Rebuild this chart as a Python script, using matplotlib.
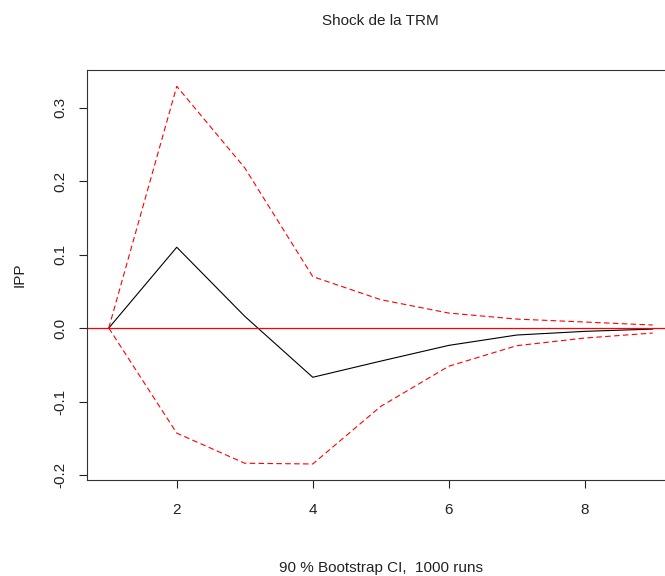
import matplotlib
matplotlib.use("Agg")
import matplotlib.pyplot as plt

horizon = [1, 2, 3, 4, 5, 6, 7, 8, 9]
irf = [0.0, 0.110, 0.016, -0.067, -0.045, -0.0236, -0.0095, -0.0045, -0.0014]
upper = [0.0, 0.329, 0.218, 0.070, 0.0386, 0.0204, 0.0122, 0.0082, 0.0041]
lower = [0.0, -0.143, -0.184, -0.185, -0.1066, -0.052, -0.024, -0.0136, -0.0068]
xticks = [2, 4, 6, 8]
yticks = [-0.2, -0.1, 0.0, 0.1, 0.2, 0.3]
title = "Shock de la TRM"
ylabel = "IPP"
xlabel = "90 % Bootstrap CI,  1000 runs"

plt.rcParams['font.family'] = ['Liberation Sans', 'DejaVu Sans']
fs = 11
W, H = 665, 576
fig = plt.figure(figsize=(W/100, H/100), dpi=100)
ax = fig.add_axes([87/W, 96/H, 587.5/W, 410/H])

ax.plot(horizon, irf, color='black', lw=0.8)
ax.plot(horizon, upper, color='red', lw=0.8, ls=(0, (5, 3)))
ax.plot(horizon, lower, color='red', lw=0.8, ls=(0, (5, 3)))
ax.axhline(0, color='red', lw=0.9)

ax.set_xlim(0.68, 9.32)
ax.set_ylim(-0.2068, 0.3512)
ax.set_xticks(xticks)
ax.set_xticklabels([str(t) for t in xticks])
ax.set_yticks(yticks)
ax.set_yticklabels(["%.1f" % t for t in yticks], rotation=90, va='center')
ax.tick_params(axis='both', direction='out', length=5.8, width=0.8, labelsize=fs, colors='#222222')
ax.tick_params(axis='x', pad=10.5)
ax.tick_params(axis='y', pad=8)
for s in ax.spines.values():
    s.set_linewidth(0.8)
    s.set_color('#333333')

fig.text(380.75/W, 1 - 21/H, title, ha='center', va='center', fontsize=fs, color='#222222')
fig.text(20/W, 1 - 275/H, ylabel, ha='center', va='center', rotation=90, fontsize=fs, color='#222222')
fig.text(380.75/W, 1 - 568/H, xlabel, ha='center', va='center', fontsize=fs, color='#222222')

fig.savefig("out.png", dpi=100)
